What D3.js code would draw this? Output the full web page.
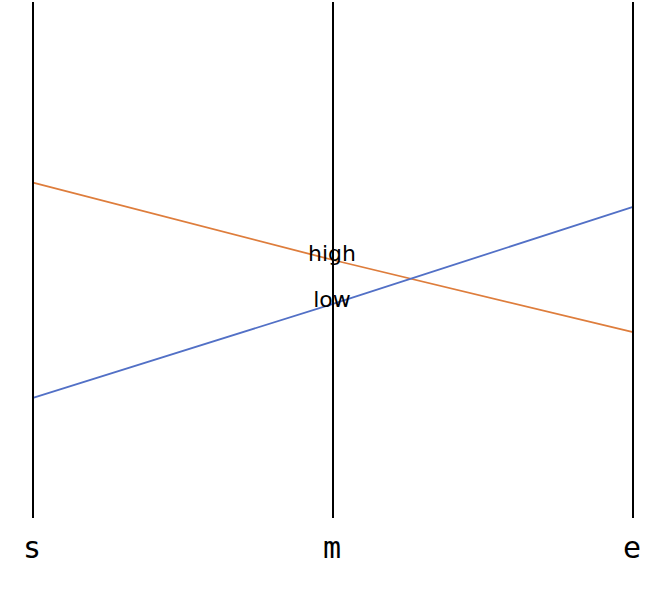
<!DOCTYPE html>
<html><head><meta charset="utf-8">
<script src="https://cdn.jsdelivr.net/npm/d3@7"></script>
<style>html,body{margin:0;padding:0;background:#fff;}</style>
</head><body>
<svg id="chart" width="664" height="590"></svg>
<script>
const dimensions = ["s", "m", "e"];
const seriesNames = ["high", "low"];
const highValues = [65, 50, 36];
const lowValues = [23.3, 41.5, 60.3];
const seriesColors = ["#DE7D3C", "#5270C6"];

const svg = d3.select("#chart");
const x = d3.scalePoint().domain(dimensions).range([33, 633]);
const y = d3.scaleLinear().domain([0, 100]).range([518, 2]);

const series = [
  {name: seriesNames[0], values: highValues, color: seriesColors[0]},
  {name: seriesNames[1], values: lowValues, color: seriesColors[1]}
];

const line = d3.line().x((d, i) => x(dimensions[i])).y(d => y(d));

svg.selectAll("path.series").data(series).enter().append("path")
  .attr("class", "series")
  .attr("d", d => line(d.values))
  .attr("fill", "none")
  .attr("stroke", d => d.color)
  .attr("stroke-width", 1.8);

svg.selectAll("line.axis").data(dimensions).enter().append("line")
  .attr("class", "axis")
  .attr("x1", d => x(d)).attr("x2", d => x(d))
  .attr("y1", y(100)).attr("y2", y(0))
  .attr("stroke", "#000").attr("stroke-width", 2);

svg.selectAll("text.dim").data(dimensions).enter().append("text")
  .attr("class", "dim")
  .attr("x", d => x(d) - 1).attr("y", 558)
  .attr("text-anchor", "middle")
  .attr("font-family", "DejaVu Sans Mono, monospace")
  .attr("font-size", 30)
  .text(d => d);

svg.selectAll("text.lbl").data(series).enter().append("text")
  .attr("class", "lbl")
  .attr("x", x("m") - 1)
  .attr("y", (d, i) => i === 0 ? 261 : 307)
  .attr("text-anchor", "middle")
  .attr("font-family", "DejaVu Sans, sans-serif")
  .attr("font-size", 22)
  .text(d => d.name);
</script>
</body></html>
